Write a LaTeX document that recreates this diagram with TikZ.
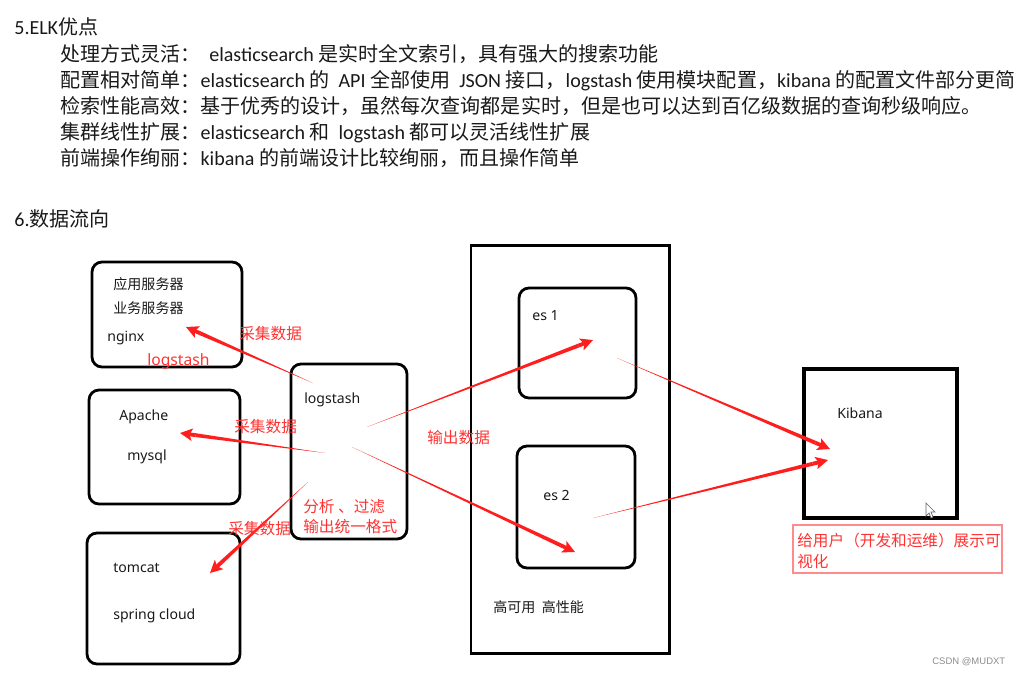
\documentclass[tikz,border=0pt]{standalone}
\usepackage{fontspec}
\setmainfont{Carlito}
\newfontfamily\cjk{Noto Sans CJK SC}
\newfontfamily\ui{Noto Sans}
\newfontfamily\wm{Liberation Sans}
\usepackage{tikz}
\usetikzlibrary{arrows.meta,calc}

\definecolor{ink}{RGB}{25,25,25}
\definecolor{flowred}{RGB}{255,30,30}
\definecolor{notered}{RGB}{255,50,50}
\definecolor{noteline}{RGB}{255,140,140}

\tikzset{
  srvbox/.style={line width=1.6pt,rounded corners=0.2cm},
  sqbox/.style={line width=1.7pt},
  headtxt/.style={anchor=base west,inner sep=0pt,text=ink,font=\fontsize{11.4}{13}\selectfont},
  boxtxt/.style={anchor=base west,inner sep=0pt,text=ink,font=\fontsize{8}{10}\selectfont\ui},
  redtxt/.style={anchor=base west,inner sep=0pt,text=notered,font=\fontsize{8.9}{11}\selectfont\cjk},
}

% 細い所から太くなる赤い矢印
\newcommand{\flowarrow}[2]{%
  \coordinate (neck) at ($(#2)!9pt!(#1)$);
  \fill[flowred] (#1) -- ($(neck)!1.1pt!90:(#1)$) -- ($(neck)!1.1pt!-90:(#1)$) -- cycle;
  \draw[flowred,line width=2.2pt,-{Stealth[length=7pt,width=7pt,inset=1.5pt]}] (neck) -- (#2);
}

\begin{document}
\begin{tikzpicture}[x=0.02cm,y=-0.02cm]
  \useasboundingbox (0,0) rectangle (1021,674);

  % 5.ELK优点
  \node[headtxt] (t5) at (14,34) {5.ELK{\cjk 优点}};
  \node[headtxt] (p1) at (60,61) {{\cjk 处理方式灵活：}\hspace{5pt}elasticsearch {\cjk 是实时全文索引，具有强大的搜索功能}};
  \node[headtxt] (p2) at (60,87) {{\cjk 配置相对简单：}elasticsearch {\cjk 的}\ \ API {\cjk 全部使用}\ \ JSON {\cjk 接口，}logstash {\cjk 使用模块配置，}kibana {\cjk 的配置文件部分更简}};
  \node[headtxt] (p3) at (60,113) {\cjk 检索性能高效：基于优秀的设计，虽然每次查询都是实时，但是也可以达到百亿级数据的查询秒级响应。};
  \node[headtxt] (p4) at (60,139) {{\cjk 集群线性扩展：}elasticsearch {\cjk 和}\ \ logstash {\cjk 都可以灵活线性扩展}};
  \node[headtxt] (p5) at (60,165) {{\cjk 前端操作绚丽：}kibana {\cjk 的前端设计比较绚丽，而且操作简单}};
  \node[headtxt] (t6) at (14,226) {6.{\cjk 数据流向}};

  % 左の三つ
  \draw[srvbox] (92,262) rectangle (242,367);
  \node[boxtxt] (app) at (113,289) {\cjk 应用服务器};
  \node[boxtxt] (biz) at (113,313) {\cjk 业务服务器};
  \node[boxtxt] (nginx) at (107,341) {nginx};
  \node[redtxt,font=\fontsize{8.9}{11}\selectfont\ui] (lsred) at (147,365) {logstash};

  \draw[srvbox] (89,390) rectangle (240,504);
  \node[boxtxt] (apache) at (119,420) {Apache};
  \node[boxtxt] (mysql) at (127,460) {mysql};

  \draw[srvbox] (87,533) rectangle (240,664);
  \node[boxtxt] (tomcat) at (113,572) {tomcat};
  \node[boxtxt] (spring) at (113,619) {spring cloud};

  % logstash
  \draw[srvbox] (291,364) rectangle (407,539);
  \node[boxtxt] (ls) at (304,403) {logstash};
  \node[redtxt] (filt) at (303,512) {分析 、过滤};
  \node[redtxt] (fmt) at (303,532) {输出统一格式};

  % es 集群
  \draw[sqbox] (471,245) rectangle (669,653);
  \draw[srvbox] (519,288) rectangle (636,398);
  \node[boxtxt] (es1) at (532,320) {es 1};
  \draw[srvbox] (517,446) rectangle (635,568);
  \node[boxtxt] (es2) at (543,500) {es 2};
  \node[boxtxt,font=\fontsize{8}{10}\selectfont\cjk] (ha) at (493,612) {高可用\ \ 高性能};

  % Kibana
  \draw[sqbox,line width=2.1pt] (804,369) rectangle (957,518);
  \node[boxtxt] (kib) at (837,418) {Kibana};
  \draw[noteline,line width=0.6pt] (793,525) rectangle (1002,573);
  \node[redtxt] (show1) at (797,546) {给用户（开发和运维）展示可};
  \node[redtxt] (show2) at (797,567) {视化};
  \draw[black!60,fill=white,line width=0.4pt] (926,503) -- (926,516) -- (929,513) -- (931,518) -- (933,517) -- (931,512) -- (935,512) -- cycle;

  % 矢印の端点
  \coordinate (ls-a) at (313,383); \coordinate (srv-a) at (186,327);
  \coordinate (ls-b) at (325,453); \coordinate (srv-b) at (180,433);
  \coordinate (ls-c) at (308,482); \coordinate (srv-c) at (210,573);
  \coordinate (ls-d) at (367,427); \coordinate (es1-in) at (593,340);
  \coordinate (ls-e) at (352,447); \coordinate (es2-in) at (575,552);
  \coordinate (es1-out) at (617,358); \coordinate (kib-a) at (830,449);
  \coordinate (es2-out) at (593,518); \coordinate (kib-b) at (828,460);

  \flowarrow{ls-a}{srv-a}
  \flowarrow{ls-b}{srv-b}
  \flowarrow{ls-c}{srv-c}
  \flowarrow{ls-d}{es1-in}
  \flowarrow{ls-e}{es2-in}
  \flowarrow{es1-out}{kib-a}
  \flowarrow{es2-out}{kib-b}

  \node[redtxt] (get1) at (239,339) {采集数据};
  \node[redtxt] (get2) at (234,432) {采集数据};
  \node[redtxt] (get3) at (228,534) {采集数据};
  \node[redtxt] (out) at (427,443) {输出数据};

  \node[anchor=base west,inner sep=0pt,text=black!45,font=\fontsize{5.4}{7}\selectfont\wm] (mark) at (932,664) {CSDN @MUDXT};
\end{tikzpicture}
\end{document}
